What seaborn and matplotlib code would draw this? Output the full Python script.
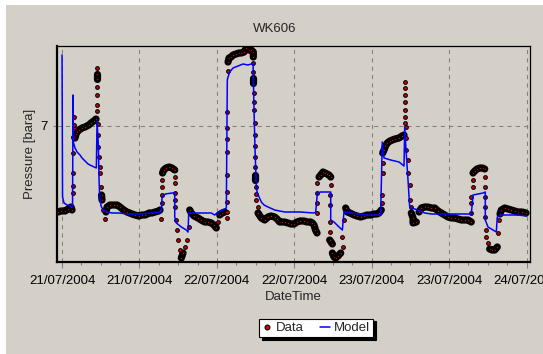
import numpy as np
import pandas as pd
import matplotlib
matplotlib.use("Agg")
import matplotlib.pyplot as plt
import matplotlib.dates as mdates
from matplotlib.patches import Rectangle
from matplotlib.lines import Line2D
import seaborn as sns

# Well WK606 test: recorded pressure and model response (hours from 21/07/2004 00:00)
start = pd.Timestamp("2004-07-21 00:00")

t_data = [
    -0.62, -0.16, 0.47, 0.93, 1.40, 1.55, 1.66, 1.66, 1.66, 1.71, 1.71, 1.78, 1.78, 1.86, 2.02, 2.17,
    2.33, 2.64, 3.10, 3.57, 4.14, 4.50, 4.91, 5.27,
    5.43, 5.43, 5.43, 5.43, 5.43, 5.43, 5.43,
    5.58, 5.58, 5.63, 5.78, 5.89, 5.94, 6.05, 6.12, 6.20, 6.36, 6.62,
    6.82, 6.98, 7.44, 8.01, 8.53, 8.99, 9.56, 10.08, 10.85, 11.32, 11.89, 12.40, 12.91, 13.49, 13.95,
    14.42, 14.99, 15.19,
    15.39, 15.50, 15.50, 15.50, 15.55, 15.58, 15.76,
    16.12, 16.59, 17.05, 17.47,
    17.47, 17.47, 17.52, 17.52, 17.52, 17.67, 17.83, 17.98, 18.21, 18.49, 18.76, 19.07, 19.38, 19.64, 19.79,
    20.04, 20.46, 21.08, 21.55, 22.12, 22.63, 23.14, 23.56, 23.92, 24.18, 24.44, 24.80, 25.22,
    25.53, 25.53, 25.53, 25.53, 25.53, 25.53, 25.53, 25.53, 25.53, 25.73,
    25.73, 25.89, 26.20, 26.51, 26.97, 27.44, 27.79, 28.21, 28.57, 28.99, 29.34,
    29.65, 29.65, 29.65, 29.53, 29.53, 29.53, 29.76, 29.76, 29.76, 29.87, 29.87, 29.87, 29.87,
    29.96, 29.96, 29.96, 30.12, 30.12, 30.12, 30.38, 30.38, 30.89, 31.42,
    31.93, 32.40, 32.97, 33.33, 33.74, 34.10, 34.52, 35.03, 35.50, 35.96, 36.43, 36.89, 37.51, 37.98,
    38.55, 38.80,
    39.06, 39.29, 39.53, 39.58, 39.58, 39.58, 39.60, 39.84,
    40.10, 40.46, 40.77, 41.08, 41.39, 41.65,
    41.65, 41.54, 41.54, 41.49, 41.49, 41.49, 41.90, 41.90, 42.16, 42.42, 42.78, 43.20, 43.60, 43.45,
    43.71, 43.97,
    44.22, 44.64, 45.26, 45.73, 46.30, 46.81, 47.28, 47.85, 48.36, 48.83, 49.14, 49.49,
    49.55, 49.55, 49.71, 49.71, 49.71, 49.91, 50.14, 50.42, 50.84, 51.20, 51.62, 52.24, 52.70, 53.01,
    53.12, 53.12, 53.12, 53.12, 53.12, 53.12, 53.12,
    53.37, 53.37, 53.37, 53.63, 53.63, 53.89, 53.89, 54.14, 54.14, 54.41, 54.41, 54.92,
    55.34, 55.70, 56.22, 56.73, 57.24, 57.77, 58.28, 58.79, 59.32, 59.83, 60.34, 60.87, 61.38, 61.89,
    62.42, 62.93, 63.44,
    63.44, 63.44, 63.44, 63.71, 63.71, 63.71, 63.97, 64.33, 64.79, 65.18, 65.52,
    65.61, 65.61, 65.61, 65.61, 65.61, 65.77, 65.77, 66.03, 66.29, 66.65, 67.07, 67.47, 67.58, 67.69,
    67.89, 68.10,
    68.62, 69.13, 69.64, 70.17, 70.68, 71.30, 71.92,
]
p_data = [
    6.14, 6.15, 6.15, 6.17, 6.19, 6.16, 6.33, 6.40, 6.53, 6.73, 6.89, 6.98, 7.09, 7.01, 6.88, 6.92,
    6.94, 6.96, 6.98, 6.99, 7.01, 7.03, 7.05, 7.07,
    7.15, 7.21, 7.31, 7.39, 7.47, 7.52, 7.58,
    7.02, 6.91, 6.79, 6.69, 6.59, 6.53, 6.39, 6.31, 6.26, 6.16, 6.07,
    6.14, 6.19, 6.21, 6.21, 6.21, 6.19, 6.16, 6.14, 6.12, 6.11, 6.10, 6.11, 6.11, 6.13, 6.13,
    6.14, 6.15, 6.16,
    6.07, 6.23, 6.31, 6.39, 6.46, 6.53, 6.56,
    6.58, 6.59, 6.58, 6.56,
    6.49, 6.43, 6.33, 6.26, 6.19, 6.06, 5.96, 5.86, 5.76, 5.68, 5.73, 5.79, 5.86, 5.99, 6.16,
    6.13, 6.10, 6.08, 6.06, 6.04, 6.04, 6.03, 6.01, 5.98, 6.04, 6.11, 6.13, 6.14,
    6.08, 6.14, 6.24, 6.34, 6.51, 6.74, 6.87, 6.98, 7.14, 7.55,
    7.64, 7.68, 7.69, 7.71, 7.72, 7.73, 7.73, 7.74, 7.78, 7.76, 7.76,
    7.74, 7.69, 7.63, 7.54, 7.48, 7.43, 7.33, 7.24, 7.16, 7.03, 6.91, 6.80, 6.69,
    6.59, 6.51, 6.46, 6.39, 6.32, 6.26, 6.19, 6.13, 6.08, 6.06,
    6.09, 6.10, 6.09, 6.07, 6.04, 6.04, 6.04, 6.03, 6.02, 6.02, 6.04, 6.05, 6.05, 6.04,
    6.04, 6.03,
    6.01, 5.96, 5.93, 6.13, 6.23, 6.33, 6.43, 6.49,
    6.51, 6.54, 6.53, 6.52, 6.51, 6.49,
    6.41, 6.31, 6.21, 6.04, 5.94, 5.86, 5.82, 5.73, 5.69, 5.68, 5.70, 5.73, 5.79, 5.89,
    6.06, 6.18,
    6.14, 6.13, 6.11, 6.10, 6.09, 6.10, 6.11, 6.11, 6.12, 6.12, 6.13, 6.16,
    6.23, 6.31, 6.53, 6.63, 6.73, 6.76, 6.80, 6.83, 6.85, 6.86, 6.87, 6.88, 6.90, 6.91,
    7.03, 7.09, 7.16, 7.24, 7.31, 7.38, 7.44,
    6.99, 6.88, 6.76, 6.66, 6.53, 6.41, 6.26, 6.19, 6.13, 6.08, 6.03, 6.04,
    6.14, 6.18, 6.19, 6.19, 6.18, 6.18, 6.15, 6.13, 6.11, 6.09, 6.08, 6.08, 6.07, 6.06,
    6.06, 6.06, 6.04,
    6.13, 6.23, 6.29, 6.39, 6.46, 6.53, 6.55, 6.57, 6.58, 6.58, 6.57,
    6.49, 6.39, 6.29, 6.19, 6.09, 5.96, 5.89, 5.83, 5.77, 5.76, 5.76, 5.79, 5.93, 6.06,
    6.12, 6.16,
    6.18, 6.17, 6.16, 6.15, 6.14, 6.14, 6.13,
]

t_model = [
    0.00, 0.08, 0.31, 0.78, 1.24, 1.63, 1.71, 1.78, 2.02, 2.33, 2.79, 3.10, 3.57, 4.03, 4.65, 5.32,
    5.43, 5.63, 5.74, 5.84, 6.05, 6.36, 6.98, 7.75, 8.79, 10.34, 12.09, 13.95, 15.24, 15.42,
    15.50, 16.01, 17.05, 17.47, 17.47, 17.72, 18.49, 19.27, 19.53, 19.64, 20.04, 21.39, 23.14,
    23.67, 24.18, 24.96, 25.47, 25.62, 25.73, 25.99, 26.51, 27.28, 28.06, 28.83, 29.30, 29.61,
    29.76, 29.92, 30.12, 30.27, 30.89, 31.31, 31.93, 32.97, 34.52, 36.89, 39.06, 39.32, 39.58,
    40.10, 41.65, 41.65, 42.16, 42.94, 43.45, 43.71, 44.75, 47.32, 49.39, 49.64, 49.91, 50.95,
    52.24, 53.01, 53.12, 53.32, 53.63, 53.89, 54.14, 55.18, 56.22, 57.24, 59.83, 63.44, 63.71,
    65.26, 65.61, 65.61, 66.03, 67.32, 67.47, 68.10, 70.68, 72.02,
]
p_model = [
    7.71, 6.29, 6.23, 6.21, 6.20, 6.19, 7.31, 6.83, 6.78, 6.74, 6.71, 6.68, 6.65, 6.62, 6.60, 6.58,
    7.05, 6.81, 6.46, 6.29, 6.20, 6.16, 6.14, 6.13, 6.13, 6.12, 6.12, 6.13, 6.14, 6.15,
    6.29, 6.32, 6.33, 6.33, 6.09, 6.03, 5.99, 5.96, 5.94, 6.13, 6.13, 6.13, 6.13,
    6.11, 6.14, 6.16, 6.18, 7.46, 7.49, 7.54, 7.58, 7.60, 7.62, 7.61, 7.62, 7.63,
    7.16, 6.76, 6.39, 6.33, 6.24, 6.21, 6.19, 6.16, 6.14, 6.14, 6.13, 6.14, 6.33,
    6.34, 6.34, 6.06, 6.04, 5.99, 5.96, 6.14, 6.13, 6.11, 6.11, 6.84, 6.68, 6.66,
    6.64, 6.60, 6.99, 6.76, 6.46, 6.19, 6.18, 6.16, 6.13, 6.12, 6.12, 6.12, 6.31,
    6.33, 6.34, 6.06, 5.99, 5.94, 6.09, 6.11, 6.11, 6.10,
]

y_ticks = [7]
y_ticklabels = ["7"]

PANEL = "#D4D0C8"
RED = "#E00000"
BLUE = "#0000FF"
GRID = "#808080"

sns.set_style("white")
plt.rcParams["font.family"] = ["Liberation Sans", "DejaVu Sans"]
plt.rcParams["font.size"] = 9.5

data = pd.DataFrame({"time": start + pd.to_timedelta(t_data, unit="h"), "pressure": p_data})
# the dense record is drawn as a continuous trace; fast transients stay as separate readings
jump = data["pressure"].diff().abs().fillna(0) > 0.055
data["segment"] = jump.cumsum().astype(int)
run_len = data.groupby("segment")["pressure"].transform("size")
in_run = data[run_len > 1]
isolated = data[run_len == 1]
model = pd.DataFrame({"time": start + pd.to_timedelta(t_model, unit="h"), "pressure": p_model})

W, H = 543, 354
fig = plt.figure(figsize=(W / 100, H / 100), dpi=100, facecolor="white")
fig.patches.append(Rectangle((6 / W, 0), 1, 1 - 5 / H, transform=fig.transFigure,
                             facecolor=PANEL, edgecolor="none", zorder=-10))
ax = fig.add_axes([57 / W, 1 - 262 / H, (530 - 57) / W, (262 - 46) / H])
ax.set_facecolor(PANEL)

sns.lineplot(data=data, x="time", y="pressure", units="segment", estimator=None, sort=False,
             color="black", linewidth=5.2, solid_capstyle="round", solid_joinstyle="round",
             ax=ax, legend=False, zorder=2)
sns.scatterplot(data=in_run, x="time", y="pressure", color=RED, edgecolor="black", linewidth=0.9,
                s=3.5, ax=ax, legend=False, zorder=3)
sns.scatterplot(data=isolated, x="time", y="pressure", color=RED, edgecolor="black", linewidth=0.8,
                s=7, ax=ax, legend=False, zorder=3)
sns.lineplot(data=model, x="time", y="pressure", estimator=None, sort=False,
             color=BLUE, linewidth=1.1, ax=ax, legend=False, zorder=4)

x0 = mdates.date2num(start + pd.Timedelta(hours=-0.78))
x1 = mdates.date2num(start + pd.Timedelta(hours=72.54))
ax.set_xlim(x0, x1)
ax.set_ylim(5.64, 7.80)

ax.xaxis.set_major_locator(mdates.HourLocator(byhour=[0, 12]))
ax.xaxis.set_minor_locator(mdates.HourLocator(byhour=range(0, 24, 3)))
ax.xaxis.set_major_formatter(mdates.DateFormatter("%d/%m/%Y"))
ax.set_yticks(y_ticks)
ax.set_yticklabels(y_ticklabels)

ax.set_axisbelow(True)
ax.grid(True, which="major", color=GRID, lw=0.75, ls=(0, (4, 4)))
ax.tick_params(axis="x", which="major", length=4, width=0.8, color=GRID, pad=5,
               labelsize=9.5, labelcolor="black", bottom=True)
ax.tick_params(axis="x", which="minor", length=2.5, width=0.8, color=GRID, bottom=True)
ax.tick_params(axis="y", length=3, width=0.8, color=GRID, pad=3.5, labelsize=9.5,
               labelcolor="black", left=True)
ax.set_xlabel("")
ax.set_ylabel("")

for side in ("left", "bottom"):
    ax.spines[side].set_linewidth(1.6)
    ax.spines[side].set_color("black")
for side in ("top", "right"):
    ax.spines[side].set_linewidth(0.9)
    ax.spines[side].set_color("black")
    ax.spines[side].set_visible(True)

fig.text(274.5 / W, 1 - 29 / H, "WK606", ha="center", va="center", fontsize=9.5)
fig.text(30 / W, 1 - 154 / H, "Pressure [bara]", rotation=90, ha="center", va="center", fontsize=9.5)
fig.text(293.5 / W, 1 - 297 / H, "DateTime", ha="center", va="center", fontsize=9.5)

handles = [
    Line2D([], [], ls="none", marker="o", markersize=3.5, markerfacecolor=RED,
           markeredgecolor="black", markeredgewidth=0.8),
    Line2D([], [], color=BLUE, lw=1.1),
]
leg = fig.legend(handles, ["Data", "Model"], loc="center", bbox_to_anchor=(316 / W, 1 - 328 / H),
                 ncol=2, frameon=True, fancybox=False, shadow={"color": "black", "alpha": 1},
                 edgecolor="black", facecolor="white", framealpha=1, handlelength=0.7,
                 handletextpad=0.3, columnspacing=1.3, borderpad=0.25, fontsize=9.5)
leg.get_frame().set_linewidth(0.8)

fig.savefig("out.png", dpi=100, facecolor=fig.get_facecolor())
